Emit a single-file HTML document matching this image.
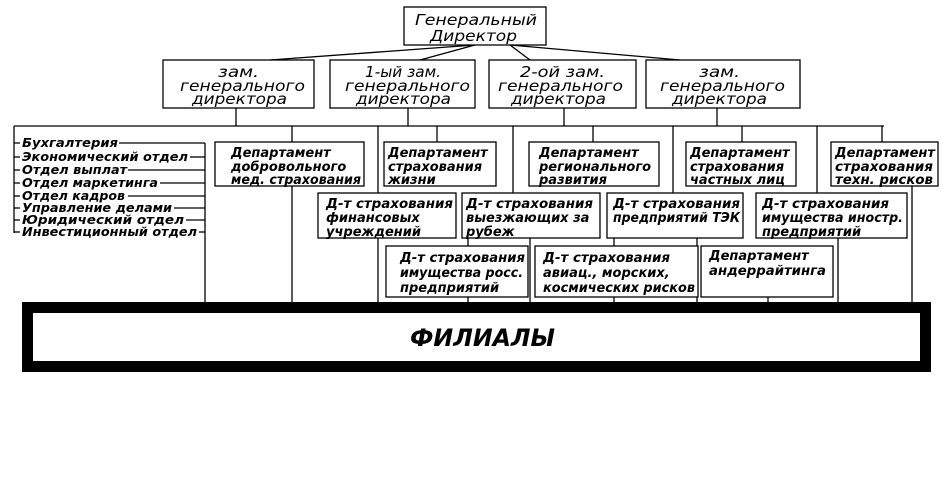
<!DOCTYPE html>
<html><head><meta charset="utf-8"><style>
html,body{margin:0;padding:0;background:#fff;}
svg{display:block}
text{font-family:"DejaVu Sans","Liberation Sans",sans-serif;font-style:oblique;fill:#000}
.t{font-size:15.5px}
.b{font-size:13px;font-weight:bold}
.c{font-size:13px;font-weight:bold}
.l{font-size:12px;font-weight:bold}
</style></head><body>
<svg width="951" height="496" viewBox="0 0 951 496" xmlns="http://www.w3.org/2000/svg">
<g stroke="#000" stroke-width="1.3" fill="none">
<line x1="475" y1="45" x2="270" y2="60"/><line x1="475" y1="45" x2="420" y2="60"/>
<line x1="510" y1="45" x2="680" y2="60"/><line x1="510" y1="45" x2="530" y2="60"/>
<line x1="236" y1="108" x2="236" y2="126"/><line x1="408" y1="108" x2="408" y2="126"/>
<line x1="564" y1="108" x2="564" y2="126"/><line x1="717" y1="108" x2="717" y2="126"/>
<line x1="14" y1="126" x2="884" y2="126"/>
<line x1="14" y1="126" x2="14" y2="233"/>
<line x1="205" y1="143" x2="205" y2="303"/>
<line x1="292" y1="126" x2="292" y2="142"/><line x1="292" y1="186" x2="292" y2="303"/>
<line x1="378" y1="126" x2="378" y2="303"/>
<line x1="437" y1="126" x2="437" y2="142"/>
<line x1="513" y1="126" x2="513" y2="193"/><line x1="530" y1="238" x2="530" y2="303"/>
<line x1="593" y1="126" x2="593" y2="142"/>
<line x1="673" y1="126" x2="673" y2="193"/><line x1="697" y1="238" x2="697" y2="303"/>
<line x1="742" y1="126" x2="742" y2="142"/>
<line x1="817" y1="126" x2="817" y2="193"/><line x1="838" y1="238" x2="838" y2="303"/>
<line x1="882" y1="126" x2="882" y2="142"/><line x1="912" y1="186" x2="912" y2="303"/>
<line x1="468" y1="238" x2="468" y2="246"/><line x1="614" y1="238" x2="614" y2="246"/>
<line x1="468" y1="297" x2="468" y2="303"/><line x1="614" y1="297" x2="614" y2="303"/><line x1="768" y1="297" x2="768" y2="303"/>
</g>
<g stroke="#000" stroke-width="1.3">
<line x1="14" y1="143" x2="20" y2="143"/><line x1="14" y1="157" x2="20" y2="157"/><line x1="14" y1="170" x2="20" y2="170"/><line x1="14" y1="183" x2="20" y2="183"/><line x1="14" y1="196" x2="20" y2="196"/><line x1="14" y1="208" x2="20" y2="208"/><line x1="14" y1="220" x2="20" y2="220"/><line x1="14" y1="232" x2="20" y2="232"/>
<line x1="119" y1="143" x2="205" y2="143"/><line x1="190" y1="157" x2="205" y2="157"/><line x1="128" y1="170" x2="205" y2="170"/><line x1="160" y1="183" x2="205" y2="183"/><line x1="128" y1="196" x2="205" y2="196"/><line x1="174" y1="208" x2="205" y2="208"/><line x1="186" y1="220" x2="205" y2="220"/><line x1="199" y1="232" x2="205" y2="232"/>
</g>
<g stroke="#000" stroke-width="1.3" fill="#fff">
<rect x="404" y="7" width="142" height="38"/>
<rect x="163" y="60" width="151" height="48"/><rect x="330" y="60" width="145" height="48"/>
<rect x="489" y="60" width="147" height="48"/><rect x="646" y="60" width="154" height="48"/>
<rect x="215" y="142" width="149" height="44"/><rect x="384" y="142" width="112" height="44"/>
<rect x="529" y="142" width="130" height="44"/><rect x="686" y="142" width="110" height="44"/>
<rect x="831" y="142" width="107" height="44"/>
<rect x="318" y="193" width="138" height="45"/><rect x="462" y="193" width="138" height="45"/>
<rect x="607" y="193" width="136" height="45"/><rect x="756" y="193" width="151" height="45"/>
<rect x="386" y="246" width="142" height="51"/><rect x="535" y="246" width="163" height="51"/>
<rect x="701" y="246" width="132" height="51"/>
</g>
<rect x="27.5" y="307.5" width="898" height="59" fill="#fff" stroke="#000" stroke-width="11"/>
<g class="t">
<text x="415" y="25" textLength="122" lengthAdjust="spacingAndGlyphs">Генеральный</text>
<text x="430" y="41" textLength="87" lengthAdjust="spacingAndGlyphs">Директор</text>
<text x="218" y="77" textLength="41" lengthAdjust="spacingAndGlyphs">зам.</text>
<text x="180" y="91" textLength="125" lengthAdjust="spacingAndGlyphs">генерального</text>
<text x="192" y="104" textLength="95" lengthAdjust="spacingAndGlyphs">директора</text>
<text x="365" y="77" textLength="76" lengthAdjust="spacingAndGlyphs">1-ый зам.</text>
<text x="345" y="91" textLength="125" lengthAdjust="spacingAndGlyphs">генерального</text>
<text x="356" y="104" textLength="95" lengthAdjust="spacingAndGlyphs">директора</text>
<text x="520" y="77" textLength="85" lengthAdjust="spacingAndGlyphs">2-ой зам.</text>
<text x="498" y="91" textLength="125" lengthAdjust="spacingAndGlyphs">генерального</text>
<text x="511" y="104" textLength="95" lengthAdjust="spacingAndGlyphs">директора</text>
<text x="699" y="77" textLength="41" lengthAdjust="spacingAndGlyphs">зам.</text>
<text x="660" y="91" textLength="125" lengthAdjust="spacingAndGlyphs">генерального</text>
<text x="672" y="104" textLength="95" lengthAdjust="spacingAndGlyphs">директора</text>
</g>
<g class="l">
<text x="22" y="147" textLength="96" lengthAdjust="spacingAndGlyphs">Бухгалтерия</text>
<text x="22" y="161" textLength="166" lengthAdjust="spacingAndGlyphs">Экономический отдел</text>
<text x="22" y="174" textLength="105" lengthAdjust="spacingAndGlyphs">Отдел выплат</text>
<text x="22" y="187" textLength="136" lengthAdjust="spacingAndGlyphs">Отдел маркетинга</text>
<text x="22" y="200" textLength="103" lengthAdjust="spacingAndGlyphs">Отдел кадров</text>
<text x="22" y="212" textLength="150" lengthAdjust="spacingAndGlyphs">Управление делами</text>
<text x="22" y="224" textLength="162" lengthAdjust="spacingAndGlyphs">Юридический отдел</text>
<text x="22" y="236" textLength="175" lengthAdjust="spacingAndGlyphs">Инвестиционный отдел</text>
</g>
<g class="b">
<text x="231" y="157">Департамент</text><text x="231" y="171">добровольного</text><text x="231" y="184" textLength="130" lengthAdjust="spacingAndGlyphs">мед. страхования</text>
<text x="388" y="157">Департамент</text><text x="388" y="171">страхования</text><text x="388" y="184">жизни</text>
<text x="539" y="157">Департамент</text><text x="539" y="171">регионального</text><text x="539" y="184">развития</text>
<text x="690" y="157">Департамент</text><text x="690" y="171">страхования</text><text x="690" y="184">частных лиц</text>
<text x="835" y="157" textLength="100" lengthAdjust="spacingAndGlyphs">Департамент</text><text x="835" y="171" textLength="98" lengthAdjust="spacingAndGlyphs">страхования</text><text x="835" y="184" textLength="98" lengthAdjust="spacingAndGlyphs">техн. рисков</text>
</g>
<g class="c">
<text x="326" y="208" textLength="127" lengthAdjust="spacingAndGlyphs">Д-т страхования</text><text x="326" y="222">финансовых</text><text x="326" y="236">учреждений</text>
<text x="466" y="208" textLength="127" lengthAdjust="spacingAndGlyphs">Д-т страхования</text><text x="466" y="222">выезжающих за</text><text x="466" y="236">рубеж</text>
<text x="613" y="208" textLength="127" lengthAdjust="spacingAndGlyphs">Д-т страхования</text><text x="613" y="222" textLength="127" lengthAdjust="spacingAndGlyphs">предприятий ТЭК</text>
<text x="762" y="208" textLength="127" lengthAdjust="spacingAndGlyphs">Д-т страхования</text><text x="762" y="222" textLength="141" lengthAdjust="spacingAndGlyphs">имущества иностр.</text><text x="762" y="236">предприятий</text>
<text x="400" y="262" textLength="125" lengthAdjust="spacingAndGlyphs">Д-т страхования</text><text x="400" y="277" textLength="123" lengthAdjust="spacingAndGlyphs">имущества росс.</text><text x="400" y="292">предприятий</text>
<text x="543" y="262" textLength="127" lengthAdjust="spacingAndGlyphs">Д-т страхования</text><text x="543" y="277">авиац., морских,</text><text x="543" y="292" textLength="152" lengthAdjust="spacingAndGlyphs">космических рисков</text>
<text x="709" y="260">Департамент</text><text x="709" y="275" textLength="117" lengthAdjust="spacingAndGlyphs">андеррайтинга</text>
</g>
<text x="410" y="346" textLength="145" lengthAdjust="spacingAndGlyphs" style="font-size:24px;font-weight:bold">ФИЛИАЛЫ</text>
</svg>
</body></html>
